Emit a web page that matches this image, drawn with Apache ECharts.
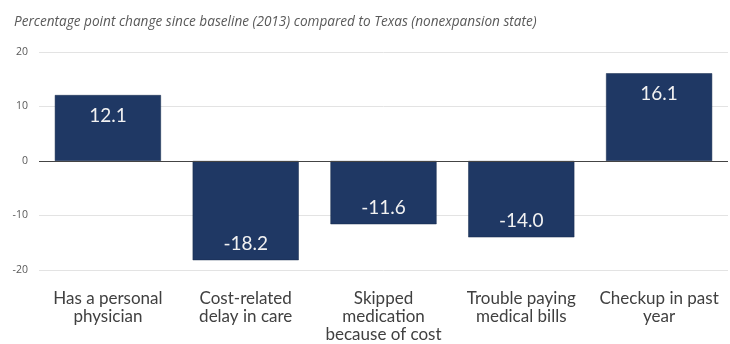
<!DOCTYPE html>
<html><head><meta charset="utf-8">
<script src="https://cdn.jsdelivr.net/npm/echarts@6/dist/echarts.min.js"></script>
<style>html,body{margin:0;padding:0;background:#fff}#c{width:730px;height:344px}</style>
</head><body><div id="c"></div>
<script>
const categories = ["Has a personal\nphysician", "Cost-related\ndelay in care", "Skipped\nmedication\nbecause of cost", "Trouble paying\nmedical bills", "Checkup in past\nyear"];
const values = [12.1, -18.2, -11.6, -14.0, 16.1];
const yTicks = [-20, -10, 0, 10, 20];
const titleText = "Percentage point change since baseline (2013) compared to Texas (nonexpansion state)";

const chart = echarts.init(document.getElementById('c'), null, {renderer: 'canvas'});
chart.setOption({
  animation: false,
  title: {
    text: titleText, left: 9, top: 10,
    textStyle: {fontFamily: 'Open Sans', fontStyle: 'italic', fontWeight: 'normal', fontSize: 13.6, color: '#595959'}
  },
  grid: {left: 39, right: 2, top: 52, bottom: 74, outerBoundsMode: 'none', containLabel: false},
  xAxis: {
    type: 'category', data: categories,
    axisLine: {show: false}, axisTick: {show: false},
    axisLabel: {interval: 0, fontFamily: 'Lato', fontSize: 17, color: '#404040', lineHeight: 18, margin: 20}
  },
  yAxis: {
    type: 'value', min: yTicks[0], max: yTicks[yTicks.length - 1], interval: 10,
    axisLine: {show: false}, axisTick: {show: false},
    axisLabel: {fontFamily: 'Open Sans', fontSize: 10.5, color: '#595959', margin: 11},
    splitLine: {lineStyle: {color: '#e3e3e3', width: 1}}
  },
  series: [{
    type: 'bar', barWidth: '77%',
    data: values.map(v => ({
      value: v,
      label: {position: v >= 0 ? 'insideTop' : 'insideBottom', distance: v >= 0 ? 11 : 7}
    })),
    itemStyle: {color: '#1f3864', borderColor: '#162a4d', borderWidth: 0.5},
    label: {
      show: true, color: '#f2f2f2', fontFamily: 'Lato', fontSize: 19,
      formatter: p => p.value.toFixed(1)
    },
    markLine: {
      silent: true, symbol: 'none', label: {show: false},
      lineStyle: {color: '#444', width: 1, type: 'solid'},
      data: [{yAxis: 0}]
    }
  }]
});
</script></body></html>
